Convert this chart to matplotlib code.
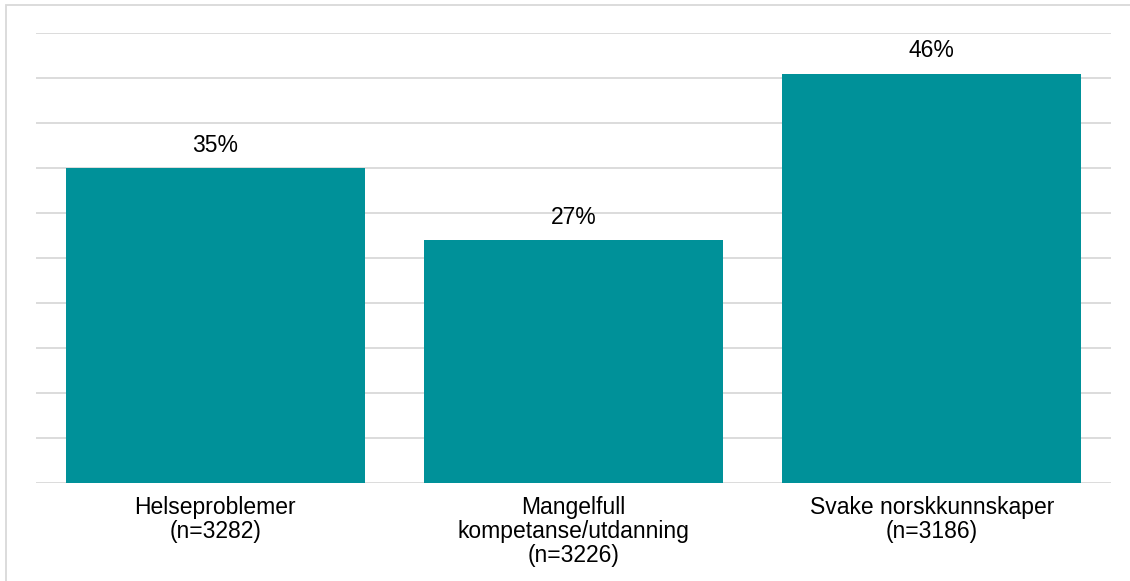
import matplotlib.pyplot as plt
from matplotlib.patches import Rectangle

categories = ['Helseproblemer\n(n=3282)',
              'Mangelfull\nkompetanse/utdanning\n(n=3226)',
              'Svake norskkunnskaper\n(n=3186)']
values = [35, 27, 45.5]
value_labels = ['35%', '27%', '46%']

bar_color = '#009199'
grid_color = '#d9d9d9'

plt.rcParams['font.family'] = ['Liberation Sans', 'DejaVu Sans']

W, H = 1130, 581
fig = plt.figure(figsize=(W / 100, H / 100), dpi=100)

# light frame round the chart (left and top edges visible)
fig.patches.append(Rectangle((6 / W, -0.05), 1.2, 1 - 5 / H + 0.05,
                             transform=fig.transFigure, fill=False,
                             edgecolor=grid_color, linewidth=1.3))

ax = fig.add_axes([36 / W, 1 - 483 / H, (1111 - 36) / W, (483 - 33) / H])
x = list(range(len(categories)))
ax.bar(x, values, width=0.835, color=bar_color, zorder=2)

ax.set_xlim(-0.5, 2.5)
ax.set_ylim(0, 50)
ax.set_yticks(range(0, 51, 5))
ax.yaxis.grid(True, color=grid_color, linewidth=1.3, zorder=0)
ax.tick_params(axis='y', left=False, labelleft=False)
ax.tick_params(axis='x', bottom=False, pad=6)
ax.set_xticks(x)
ax.set_xticklabels(categories, fontsize=16.5, linespacing=1.04, va='top')
for s in ax.spines.values():
    s.set_visible(False)

for xi, v, lab in zip(x, values, value_labels):
    ax.annotate(lab, (xi, v), xytext=(0, 8), textcoords='offset points',
                ha='center', va='bottom', fontsize=16.5)

fig.savefig('out.png', dpi=100)
